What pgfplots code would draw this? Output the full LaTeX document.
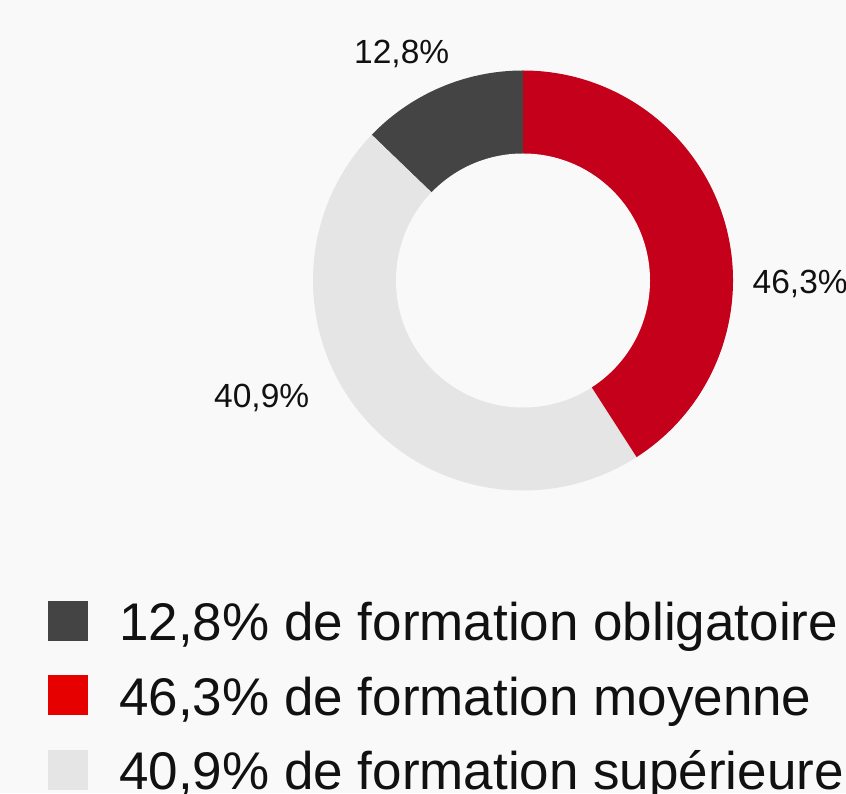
\documentclass[border=0pt]{standalone}
\usepackage{pgfplots}
\pgfplotsset{compat=1.18}
\usepackage{fontspec}
\setmainfont{Liberation Sans}

\definecolor{bg}{RGB}{249,249,249}
\definecolor{cdark}{RGB}{68,68,68}
\definecolor{cred}{RGB}{196,0,26}
\definecolor{clight}{RGB}{229,229,229}
\definecolor{legred}{RGB}{230,0,0}
\definecolor{txt}{RGB}{17,17,17}

% one slice of the ring: start (in %), share (in %), colour
\newcommand{\slice}[3]{%
  \fill[#3] (axis cs:523,512.5) -- ++({90+3.6*#1}:210pt)
    arc[start angle={90+3.6*#1}, delta angle={3.6*#2}, radius=210pt] -- cycle;}

\begin{document}
\begin{tikzpicture}
\useasboundingbox (0,0) rectangle (846pt,793pt);
\clip (0,0) rectangle (846pt,793pt);
\fill[bg] (0,0) rectangle (846pt,793pt);
\begin{axis}[
    at={(0,0)}, anchor=south west,
    x=1pt, y=1pt,
    xmin=0, xmax=846, ymin=0, ymax=793,
    hide axis,
    clip=true,
]
    % ring, counter-clockwise from the top, as drawn
    \slice{0}{12.8}{cdark}
    \slice{12.8}{46.3}{clight}
    \slice{59.1}{40.9}{cred}
    \fill[bg] (axis cs:523,512.5) circle[radius=127pt];

    % labels on the ring
    \begin{scope}[every node/.style={inner sep=0pt, anchor=base west, text=txt,
        font=\fontsize{33.5}{38}\selectfont}]
    \node at (axis cs:354,729.7) {12,8\%};
    \node at (axis cs:752.5,499.7) {46,3\%};
    \node at (axis cs:214,385.7) {40,9\%};
    \end{scope}

    % legend
    \fill[cdark]  (axis cs:48,152) rectangle (axis cs:88,192);
    \fill[legred] (axis cs:48,78)  rectangle (axis cs:88,118);
    \fill[clight] (axis cs:48,3)   rectangle (axis cs:88,43);
    \begin{scope}[every node/.style={inner sep=0pt, anchor=base west, text=txt,
        font=\fontsize{53}{60}\selectfont}]
    \node at (axis cs:119,153) {12,8\% de formation obligatoire};
    \node at (axis cs:119,78)  {46,3\% de formation moyenne};
    \node at (axis cs:119,3.5) {40,9\% de formation supérieure};
    \end{scope}
\end{axis}
\end{tikzpicture}
\end{document}
